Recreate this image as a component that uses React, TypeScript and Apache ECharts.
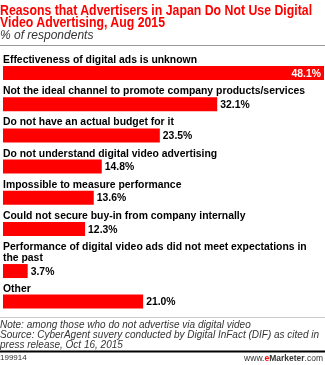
import React, { useEffect, useRef } from "react";
import * as echarts from "echarts";

const categories = [
  "Effectiveness of digital ads is unknown",
  "Not the ideal channel to promote company products/services",
  "Do not have an actual budget for it",
  "Do not understand digital video advertising",
  "Impossible to measure performance",
  "Could not secure buy-in from company internally",
  "Performance of digital video ads did not meet expectations in\nthe past",
  "Other",
];
const values = [48.1, 32.1, 23.5, 14.8, 13.6, 12.3, 3.7, 21.0];
const splitAt = 6;

const titleText = "Reasons that Advertisers in Japan Do Not Use Digital\nVideo Advertising, Aug 2015";
const subtitleText = "% of respondents";
const noteLines = [
  "Note: among those who do not advertise via digital video",
  "Source: CyberAgent suvery conducted by Digital InFact (DIF) as cited in",
  "press release, Oct 16, 2015",
];
const chartId = "199914";

const RED = "#ff0000";
const FONT = "'Liberation Sans', Arial, sans-serif";

export default function App() {
  const ref = useRef<HTMLDivElement>(null);
  useEffect(() => {
    if (!ref.current) return;
    const chart = echarts.init(ref.current, undefined, { renderer: "svg" });
    const maxV = Math.max(...values);
    const groups = [
      { cats: categories.slice(0, splitAt), vals: values.slice(0, splitAt), top: 57.4, height: 187.2 },
      { cats: categories.slice(splitAt), vals: values.slice(splitAt), top: 255.8, height: 61 },
    ];
    const option: any = {
      animation: false,
      grid: groups.map((g) => ({ left: 0, right: 1, top: g.top, height: g.height, containLabel: false })),
      xAxis: groups.map((g, i) => ({ type: "value", gridIndex: i, min: 0, max: maxV, show: false })),
      yAxis: groups.map((g, i) => ({
        type: "category",
        gridIndex: i,
        inverse: true,
        data: g.cats,
        axisLine: { show: false },
        axisTick: { show: false },
        axisLabel: {
          inside: true,
          interval: 0,
          margin: 0,
          align: "left",
          verticalAlign: "bottom",
          padding: [0, 0, 8, 0],
          fontSize: 10.4,
          lineHeight: 11,
          fontWeight: "bold",
          color: "#000",
          fontFamily: FONT,
        },
      })),
      series: groups.map((g, i) => ({
        type: "bar",
        xAxisIndex: i,
        yAxisIndex: i,
        barWidth: 14,
        itemStyle: { color: RED },
        label: {
          show: true,
          position: "right",
          distance: 3,
          fontSize: 10.4,
          fontWeight: "bold",
          color: "#000",
          fontFamily: FONT,
          formatter: (p: any) => Number(p.value).toFixed(1) + "%",
        },
        data: g.vals.map((v) =>
          v === maxV ? { value: v, label: { position: "insideRight", color: "#fff", distance: 3 } } : v
        ),
      })),
      graphic: [
        {
          type: "text",
          x: 0,
          y: 3.5,
          scaleX: 0.88,
          style: {
            text: titleText,
            font: "bold 14px " + FONT,
            lineHeight: 12.5,
            fill: RED,
          },
        },
        {
          type: "text",
          x: 0,
          y: 29,
          style: { text: subtitleText, font: "italic 12px " + FONT, lineHeight: 12, fill: "#333" },
        },
        { type: "line", shape: { x1: 0, y1: 45.5, x2: 325, y2: 45.5 }, style: { stroke: "#999", lineWidth: 1 } },
        { type: "line", shape: { x1: 0, y1: 317.5, x2: 325, y2: 317.5 }, style: { stroke: "#ccc", lineWidth: 1 } },
        {
          type: "text",
          x: 0,
          y: 319.5,
          style: {
            text: noteLines.join("\n"),
            font: "italic 10px " + FONT,
            lineHeight: 10,
            fill: "#333",
          },
        },
        { type: "line", shape: { x1: 0, y1: 351.5, x2: 325, y2: 351.5 }, style: { stroke: "#000", lineWidth: 2 } },
        {
          type: "text",
          x: 0,
          y: 353.5,
          style: { text: chartId, font: "8px " + FONT, lineHeight: 8, fill: "#333" },
        },
        {
          type: "text",
          right: 2,
          top: 353.5,
          style: {
            text: "{a|www.}{b|e}{c|Marketer}{a|.com}",
            rich: {
              a: { fontSize: 8.5, lineHeight: 9, fontFamily: FONT, fill: "#333" },
              b: { fontSize: 8.5, lineHeight: 9, fontFamily: FONT, fontWeight: "bold", fill: RED },
              c: { fontSize: 8.5, lineHeight: 9, fontFamily: FONT, fontWeight: "bold", fill: "#333" },
            },
          },
        },
      ],
    };
    chart.setOption(option);
    return () => chart.dispose();
  }, []);
  return <div ref={ref} style={{ position: "fixed", left: 0, top: 0, width: 325, height: 365 }} />;
}
